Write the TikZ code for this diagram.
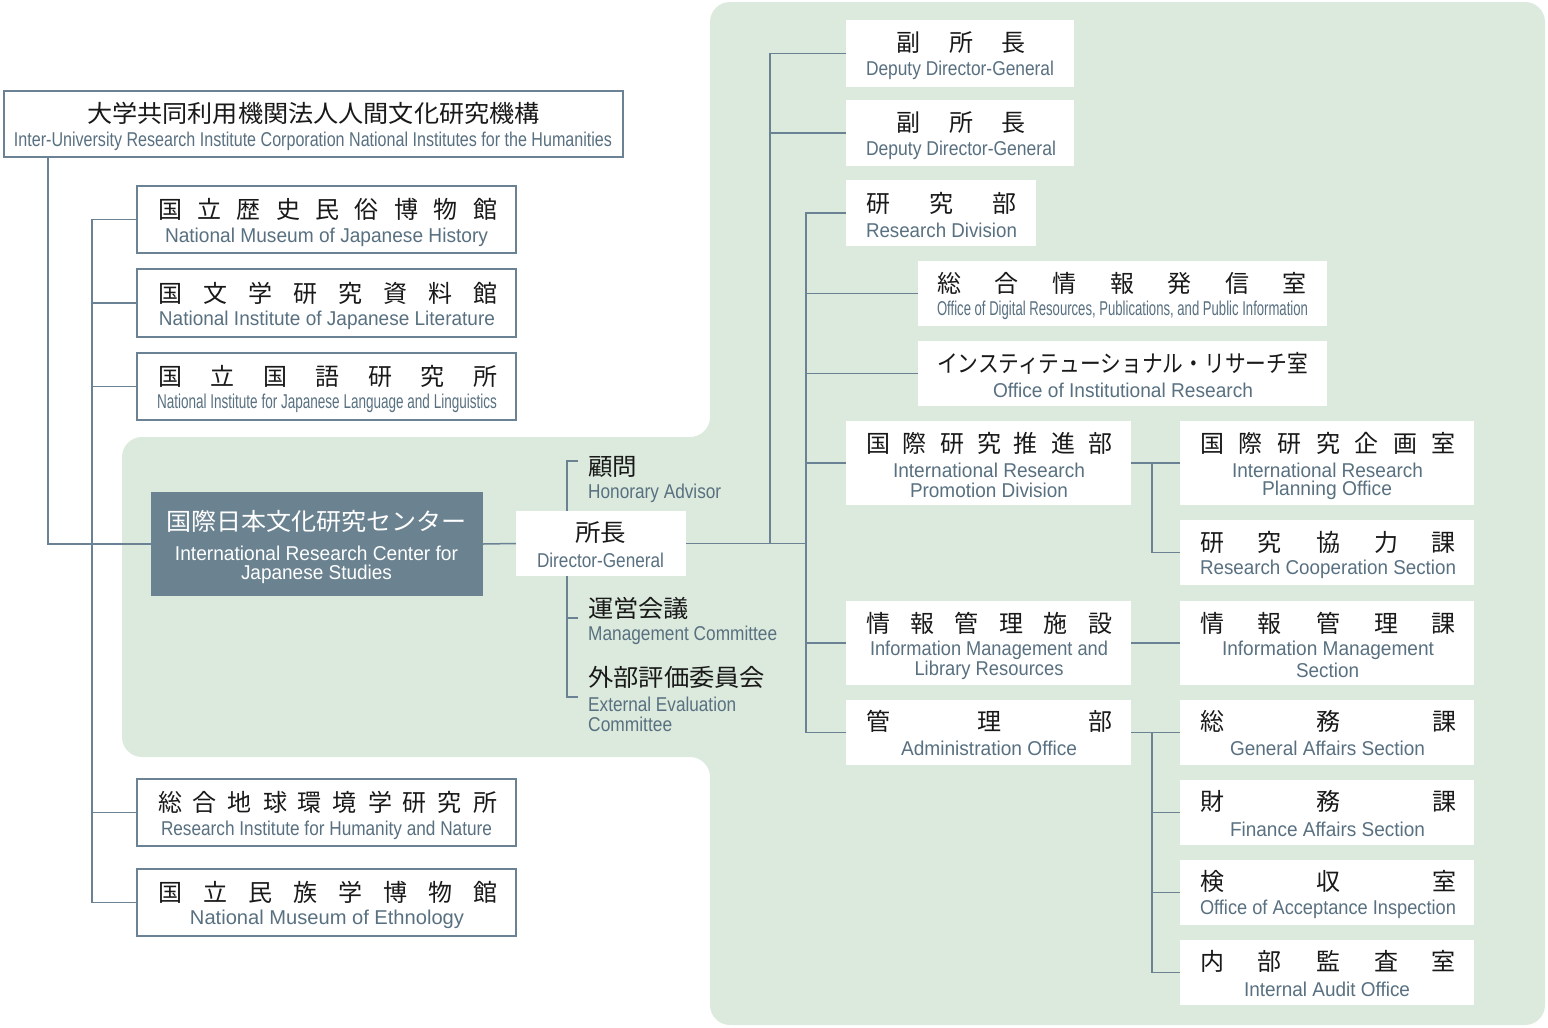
\documentclass[tikz,border=0pt]{standalone}
\usepackage{fontspec}
\usepackage{graphicx}
\setmainfont{Liberation Sans}
\newfontfamily\jpf{Noto Sans CJK JP}
\definecolor{bgc}{RGB}{220,234,221}
\definecolor{linec}{RGB}{106,130,148}
\definecolor{enc}{RGB}{88,112,128}
\definecolor{jpc}{RGB}{25,25,25}
\definecolor{darkc}{RGB}{107,131,145}
\def\jdA#1{#1\jdB}
\def\jdB#1{\ifx#1\relax\else\hfill#1\expandafter\jdB\fi}
\newcommand\jd[2]{\makebox[#1]{\jdA#2\relax}}
\newcommand\ew[2]{\resizebox{#1}{\height}{#2}}
\newcommand\bx[6]{\node[#2, minimum width={#5-#3}, minimum height={#6-#4}] (#1) at ({(#3+#5)/2},{(#4+#6)/2}) {};}
\pgfdeclarelayer{bgzero}
\pgfdeclarelayer{bgone}
\pgfsetlayers{bgzero,bgone,main}
\tikzset{
  obox/.style={draw=linec, line width=1.8pt, fill=white, inner sep=0pt},
  wbox/.style={fill=white, inner sep=0pt},
  dbox/.style={fill=darkc, inner sep=0pt},
  conn/.style={draw=linec, line width=1.5pt},
  jptext/.style={inner sep=0pt, yshift=-1pt, font=\jpf\fontsize{24}{28}\selectfont, text=jpc},
  entext/.style={inner sep=0pt, yshift=-2pt, font=\fontsize{20}{23}\selectfont, text=enc},
}
\begin{document}
\begin{tikzpicture}[x=1pt,y=-1pt]
\useasboundingbox (0,0) rectangle (1548,1028);
\begin{pgfonlayer}{bgzero}
\fill[bgc, rounded corners=20pt] (1000,2) -- (1545,2) -- (1545,1025) -- (710,1025) -- (710,757) -- (122,757) -- (122,437) -- (710,437) -- (710,2) -- cycle;
\end{pgfonlayer}

% ---------- boxes ----------
\bx{top}{obox}{4}{91}{623}{157}
\bx{b1}{obox}{137}{186}{516}{253}
\bx{b2}{obox}{137}{269}{516}{337}
\bx{b3}{obox}{137}{353}{516}{420}
\bx{b4}{obox}{137}{779}{516}{846}
\bx{b5}{obox}{137}{869}{516}{936}
\bx{dark}{dbox}{151}{492}{483}{596}
\bx{dir}{wbox}{516}{511}{686}{576}
\bx{dep1}{wbox}{846}{20}{1074}{87}
\bx{dep2}{wbox}{846}{100}{1074}{166}
\bx{resdiv}{wbox}{846}{180}{1036}{246}
\bx{digi}{wbox}{918}{261}{1327}{326}
\bx{instr}{wbox}{918}{341}{1327}{406}
\bx{irpd}{wbox}{846}{421}{1131}{505}
\bx{imlr}{wbox}{846}{601}{1131}{685}
\bx{admin}{wbox}{846}{700}{1131}{765}
\bx{irpo}{wbox}{1180}{421}{1474}{505}
\bx{rcs}{wbox}{1180}{520}{1474}{585}
\bx{ims}{wbox}{1180}{601}{1474}{685}
\bx{gas}{wbox}{1180}{700}{1474}{765}
\bx{fas}{wbox}{1180}{780}{1474}{845}
\bx{oai}{wbox}{1180}{860}{1474}{925}
\bx{iao}{wbox}{1180}{940}{1474}{1005}

% ---------- connectors ----------
\coordinate (lv) at (92,0);
\coordinate (tv) at (48,157);
\coordinate (dv) at (770,0);
\coordinate (sv) at (806,0);
\coordinate (rv) at (1152,0);
\coordinate (av1) at (578,461);
\coordinate (av2) at (578,618);
\coordinate (av3) at (578,697);
\coordinate (ab) at (567,0);
\begin{pgfonlayer}{bgone}
\draw[conn] (tv) |- (dark.west);
\draw[conn] (b1.west) -- (b1.west -| lv) -- (b5.west -| lv) -- (b5.west);
\draw[conn] (b2.west) -- (b2.west -| lv);
\draw[conn] (b3.west) -- (b3.west -| lv);
\draw[conn] (b4.west) -- (b4.west -| lv);
\draw[conn] (dark.east) -- (dir.west);
\draw[conn] (av1) -- (av1 -| ab) -- (av3 -| ab) -- (av3);
\draw[conn] (av2) -- (av2 -| ab);
\draw[conn] (dir.east) -- (dir.east -| sv);
\draw[conn] (dep1.west) -- (dep1.west -| dv) -- (dir.east -| dv);
\draw[conn] (dep2.west) -- (dep2.west -| dv);
\draw[conn] (resdiv.west) -- (resdiv.west -| sv) -- (admin.west -| sv) -- (admin.west);
\draw[conn] (digi.west) -- (digi.west -| sv);
\draw[conn] (instr.west) -- (instr.west -| sv);
\draw[conn] (irpd.west) -- (irpd.west -| sv);
\draw[conn] (imlr.west) -- (imlr.west -| sv);
\draw[conn] (irpd.east) -- (irpo.west);
\draw[conn] (irpo.west -| rv) |- (rcs.west);
\draw[conn] (imlr.east) -- (ims.west);
\draw[conn] (admin.east) -- (gas.west);
\draw[conn] (gas.west -| rv) |- (iao.west);
\draw[conn] (fas.west -| rv) -- (fas.west);
\draw[conn] (oai.west -| rv) -- (oai.west);
\end{pgfonlayer}

% ---------- texts ----------
\node[jptext] (topj) at (313.5,112) {\ew{453pt}{大学共同利用機関法人人間文化研究機構}};
\node[entext] (tope) at (313,139) {\ew{598pt}{Inter-University Research Institute Corporation National Institutes for the Humanities}};

\node[jptext] (b1j) at (327.5,208) {\jd{339pt}{国立歴史民俗博物館}};
\node[entext] (b1e) at (326.5,235) {\ew{323pt}{National Museum of Japanese History}};
\node[jptext] (b2j) at (327.5,292) {\jd{339pt}{国文学研究資料館}};
\node[entext] (b2e) at (327,318) {\ew{336pt}{National Institute of Japanese Literature}};
\node[jptext] (b3j) at (327.5,375) {\jd{339pt}{国立国語研究所}};
\node[entext] (b3e) at (327,401) {\ew{340pt}{National Institute for Japanese Language and Linguistics}};
\node[jptext] (b4j) at (327.5,801) {\jd{339pt}{総合地球環境学研究所}};
\node[entext] (b4e) at (326.5,828) {\ew{331pt}{Research Institute for Humanity and Nature}};
\node[jptext] (b5j) at (327.5,891) {\jd{339pt}{国立民族学博物館}};
\node[entext] (b5e) at (327,917) {\ew{274pt}{National Museum of Ethnology}};

\node[jptext, text=white] (darkj) at (316.5,520) {\ew{301pt}{国際日本文化研究センター}};
\node[entext, text=white] (darke1) at (316.5,551) {\ew{283pt}{International Research Center for}};
\node[entext, text=white] (darke2) at (316.5,572) {\ew{151pt}{Japanese Studies}};

\node[jptext] (dirj) at (600.5,532) {\ew{51pt}{所長}};
\node[entext] (dire) at (600.5,558) {\ew{127pt}{Director-General}};

\node[jptext, anchor=west] (advj) at (588,466) {\ew{49pt}{顧問}};
\node[entext, anchor=west] (adve) at (588,491) {\ew{133pt}{Honorary Advisor}};
\node[jptext, anchor=west] (mcj) at (588,607) {\ew{101pt}{運営会議}};
\node[entext, anchor=west] (mce) at (588,633) {\ew{189pt}{Management Committee}};
\node[jptext, anchor=west] (eecj) at (588,676) {\ew{177pt}{外部評価委員会}};
\node[entext, anchor=west] (eece1) at (588,702) {\ew{148pt}{External Evaluation}};
\node[entext, anchor=west] (eece2) at (588,722) {\ew{84pt}{Committee}};

\node[jptext] (dep1j) at (961,42) {\jd{130pt}{副所長}};
\node[entext] (dep1e) at (960,68) {\ew{188pt}{Deputy Director-General}};
\node[jptext] (dep2j) at (961,122) {\jd{130pt}{副所長}};
\node[entext] (dep2e) at (961,148) {\ew{190pt}{Deputy Director-General}};
\node[jptext] (resdivj) at (941.5,202) {\jd{151pt}{研究部}};
\node[entext] (resdive) at (941.5,228) {\ew{151pt}{Research Division}};
\node[jptext] (digij) at (1122,282) {\jd{370pt}{総合情報発信室}};
\node[entext] (digie) at (1122.5,308) {\ew{371pt}{Office of Digital Resources, Publications, and Public Information}};
\node[jptext] (instrj) at (1122.5,362) {\ew{371pt}{インスティテューショナル・リサーチ室}};
\node[entext] (instre) at (1123,388) {\ew{260pt}{Office of Institutional Research}};

\node[jptext] (irpdj) at (989,442) {\jd{246pt}{国際研究推進部}};
\node[entext] (irpde1) at (989,468) {\ew{192pt}{International Research}};
\node[entext] (irpde2) at (989,488) {\ew{158pt}{Promotion Division}};
\node[jptext] (imlrj) at (989,622) {\jd{246pt}{情報管理施設}};
\node[entext] (imlre1) at (989,648) {\ew{238pt}{Information Management and}};
\node[entext] (imlre2) at (989,668) {\ew{149pt}{Library Resources}};
\node[jptext] (adminj) at (989,720) {\jd{246pt}{管理部}};
\node[entext] (admine) at (989,746) {\ew{176pt}{Administration Office}};

\node[jptext] (irpoj) at (1328,442) {\jd{256pt}{国際研究企画室}};
\node[entext] (irpoe1) at (1327.5,468) {\ew{191pt}{International Research}};
\node[entext] (irpoe2) at (1327,488) {\ew{130pt}{Planning Office}};
\node[jptext] (rcsj) at (1328,541) {\jd{256pt}{研究協力課}};
\node[entext] (rcse) at (1328,567) {\ew{256pt}{Research Cooperation Section}};
\node[jptext] (imsj) at (1328,622) {\jd{256pt}{情報管理課}};
\node[entext] (imse1) at (1328,648) {\ew{212pt}{Information Management}};
\node[entext] (imse2) at (1327.5,668) {\ew{63pt}{Section}};
\node[jptext] (gasj) at (1328,720) {\jd{256pt}{総務課}};
\node[entext] (gase) at (1327.5,746) {\ew{195pt}{General Affairs Section}};
\node[jptext] (fasj) at (1328,800) {\jd{256pt}{財務課}};
\node[entext] (fase) at (1327.5,827) {\ew{195pt}{Finance Affairs Section}};
\node[jptext] (oaij) at (1328,880) {\jd{256pt}{検収室}};
\node[entext] (oaie) at (1328,907) {\ew{256pt}{Office of Acceptance Inspection}};
\node[jptext] (iaoj) at (1328,960) {\jd{256pt}{内部監査室}};
\node[entext] (iaoe) at (1327,987) {\ew{166pt}{Internal Audit Office}};
\end{tikzpicture}
\end{document}
